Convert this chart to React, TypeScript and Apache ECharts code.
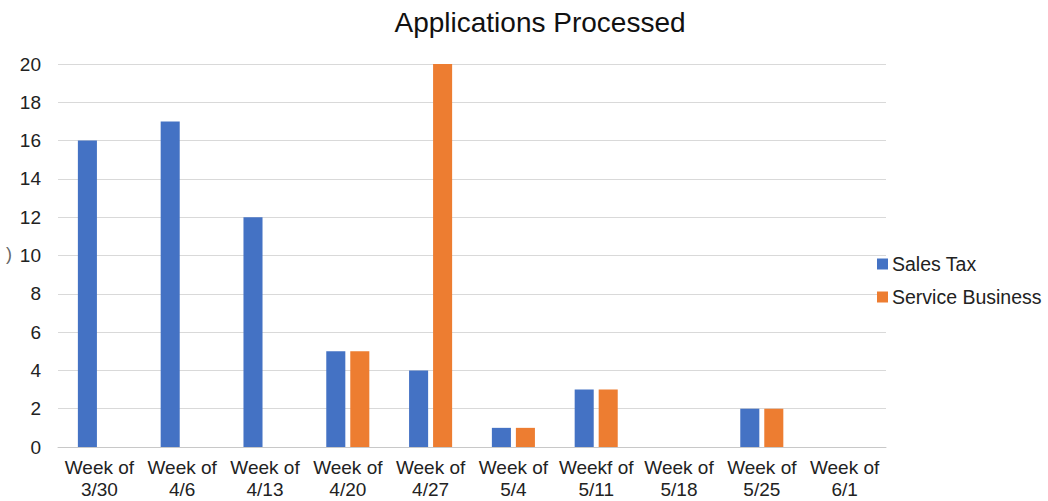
import React, { useEffect, useRef } from "react";
import * as echarts from "echarts";

const categories = [
  "Week of\n3/30", "Week of\n4/6", "Week of\n4/13", "Week of\n4/20", "Week of\n4/27",
  "Week of\n5/4", "Weekf of\n5/11", "Week of\n5/18", "Week of\n5/25", "Week of\n6/1",
];
const salesTax = [16, 17, 12, 5, 4, 1, 3, 0, 2, 0];
const serviceBusiness = [0, 0, 0, 5, 20, 1, 3, 0, 2, 0];

export default function App() {
  const ref = useRef<HTMLDivElement>(null);
  useEffect(() => {
    const chart = echarts.init(ref.current!, null, { renderer: "svg" });
    const font = "Liberation Sans, Arial, sans-serif";
    chart.setOption({
      animation: false,
      textStyle: { fontFamily: font },
      title: {
        text: "Applications Processed",
        left: 535,
        top: 3,
        textAlign: "center",
        textStyle: { fontSize: 28, fontWeight: "normal", color: "#111", fontFamily: font },
      },
      graphic: [
        { type: "text", left: 6, top: 245, style: { text: ")", fontSize: 18, fill: "#666", fontFamily: font } },
      ],
      legend: {
        orient: "vertical",
        left: 872,
        top: 249,
        itemWidth: 11,
        itemHeight: 11,
        itemGap: 13,
        icon: "rect",
        textStyle: { fontSize: 19.5, color: "#222", fontFamily: font, padding: [0, 0, 0, -1] },
        data: ["Sales Tax", "Service Business"],
      },
      grid: { left: 58, right: 162, top: 64, bottom: 54, containLabel: false },
      xAxis: {
        type: "category",
        data: categories,
        axisLine: { lineStyle: { color: "#c8c8c8" } },
        axisTick: { show: false },
        axisLabel: { fontSize: 19, color: "#222", lineHeight: 22, margin: 9, interval: 0, fontFamily: font },
      },
      yAxis: {
        type: "value",
        min: 0,
        max: 20,
        interval: 2,
        axisLine: { show: false },
        axisTick: { show: false },
        splitLine: { lineStyle: { color: "#d9d9d9" } },
        axisLabel: { fontSize: 19, color: "#222", margin: 17, fontFamily: font },
      },
      series: [
        {
          name: "Sales Tax",
          type: "bar",
          data: salesTax,
          itemStyle: { color: "#4472C4" },
          barGap: "26%",
          barCategoryGap: "48%",
        },
        {
          name: "Service Business",
          type: "bar",
          data: serviceBusiness,
          itemStyle: { color: "#ED7D31" },
          barGap: "26%",
          barCategoryGap: "48%",
        },
      ],
    });
    return () => chart.dispose();
  }, []);
  return (
    <div
      ref={ref}
      style={{ position: "fixed", left: 0, top: 0, width: 1048, height: 501, background: "#fff" }}
    />
  );
}
